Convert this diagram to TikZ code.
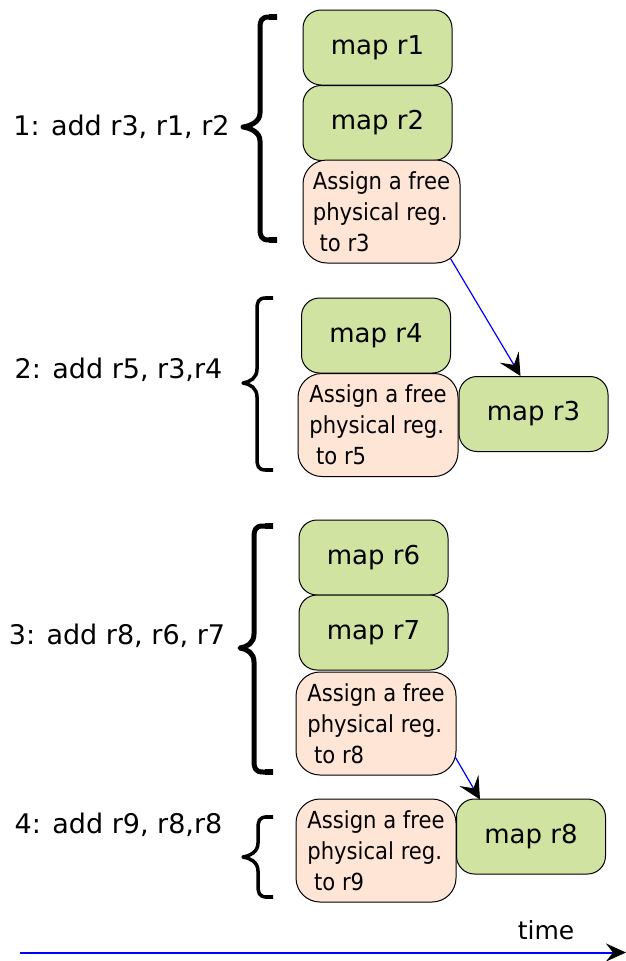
\documentclass[tikz,border=0pt]{standalone}
\usepackage{fontspec}
\setmainfont{DejaVu Sans}
\newfontfamily\condfont{DejaVu Sans Condensed}
\usetikzlibrary{arrows.meta,calc}
\definecolor{mapgreen}{RGB}{209,227,160}
\definecolor{assignpeach}{RGB}{255,229,214}
\newcommand\drawbrace[7]{% lw, xr, xv, xt, yt, ym, yb
  \draw[line width=#1, line cap=butt, line join=round]
    (#2,#5) -- (#3+9,#5) .. controls (#3+1,#5) and (#3,#5+4) .. (#3,#5+12)
    -- (#3,#6-14) .. controls (#3,#6-5) and (#4+7,#6-1) .. (#4,#6)
    .. controls (#4+7,#6+1) and (#3,#6+5) .. (#3,#6+14)
    -- (#3,#7-12) .. controls (#3,#7-4) and (#3+1,#7) .. (#3+9,#7) -- (#2,#7);
  \draw[line width=#1+1pt] (#2-8,#5) -- (#2,#5) (#2-8,#7) -- (#2,#7);
  \fill (#4-1,#6-#1/2-1) rectangle (#4+5,#6+#1/2+1);
}
\begin{document}
\begin{tikzpicture}[x=1pt,y=-1pt,
  mapbox/.style={draw=black, line width=1pt, rounded corners=18pt, fill=mapgreen,
    minimum width=149pt, minimum height=75pt, inner sep=0pt,
    font=\fontsize{26}{30}\selectfont},
  assignbox/.style={draw=black, line width=1pt, rounded corners=24pt, fill=assignpeach,
    minimum width=160pt, minimum height=103pt, inner sep=0pt, align=left,
    font=\condfont\fontsize{23.5}{31}\selectfont},
  lbl/.style={font=\fontsize{27}{30}\selectfont, inner sep=0pt},
  flow/.style={draw=blue, line width=1.2pt, -{Stealth[black, length=22pt, width=22pt, inset=9pt]}},
  timeline/.style={draw=blue, line width=2pt, -{Stealth[black, length=20pt, width=18pt, inset=7pt]}}
]
\useasboundingbox[fill=white] (0,0) rectangle (626,961);

% labels
\node[lbl] (l1) at (121.5,127) {1: add r3, r1, r2};
\node[lbl] (l2) at (118.5,370) {2: add r5, r3,r4};
\node[lbl] (l3) at (117,636) {3: add r8, r6, r7};
\node[lbl] (l4) at (118.5,825) {4: add r9, r8,r8};

% braces
\drawbrace{5pt}{277}{260}{243}{17}{127}{240}
\drawbrace{3.5pt}{273}{257}{243}{298}{383}{470}
\drawbrace{5pt}{273}{254}{240}{526}{648}{772}
\drawbrace{3.5pt}{273}{258}{243}{817}{857}{897}

% group 1
\node[mapbox] (m1) at (377.5,47.5) {map r1};
\node[mapbox] (m2) at (377.5,123) {map r2};
\node[assignbox, minimum width=157pt] (a3) at (381.5,211.5) {Assign a free\\physical reg.\\ \ to r3};

% group 2
\node[mapbox] (m4) at (376,335.5) {map r4};
\node[assignbox] (a5) at (378,425) {Assign a free\\physical reg.\\ \ to r5};
\node[mapbox] (m3) at (533.5,414) {map r3};

% group 3
\node[mapbox] (m6) at (373.5,557.5) {map r6};
\node[mapbox] (m7) at (373.5,632.5) {map r7};
\node[assignbox] (a8) at (376,723.5) {Assign a free\\physical reg.\\ \ to r8};

% group 4
\node[assignbox] (a9) at (376,850.5) {Assign a free\\physical reg.\\ \ to r9};
\node[mapbox] (m8) at (531,836.5) {map r8};

% connectors
\draw[flow] ($(a3.south east)+(-10,-5)$) -- ($(m3.north)+(-13,0)$);
\draw[flow] ($(a8.south east)+(-1,-18)$) -- ($(m8.north west)+(24,1)$);

% time axis
\coordinate (t0) at (20,952.5);
\coordinate (t1) at (626,952.5);
\draw[timeline] (t0) -- (t1);
\node[font=\fontsize{25}{30}\selectfont, inner sep=0pt] (time) at (546,930) {time};
\end{tikzpicture}
\end{document}
